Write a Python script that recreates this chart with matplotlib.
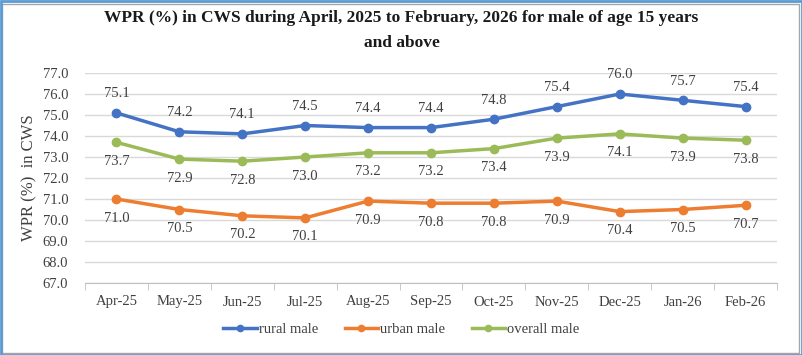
import matplotlib
matplotlib.use("Agg")
import matplotlib.pyplot as plt
from matplotlib.patches import Rectangle
from matplotlib.lines import Line2D

months = ["Apr-25", "May-25", "Jun-25", "Jul-25", "Aug-25", "Sep-25", "Oct-25",
          "Nov-25", "Dec-25", "Jan-26", "Feb-26"]
rural = [75.1, 74.2, 74.1, 74.5, 74.4, 74.4, 74.8, 75.4, 76.0, 75.7, 75.4]
urban = [71.0, 70.5, 70.2, 70.1, 70.9, 70.8, 70.8, 70.9, 70.4, 70.5, 70.7]
overall = [73.7, 72.9, 72.8, 73.0, 73.2, 73.2, 73.4, 73.9, 74.1, 73.9, 73.8]
yticks = [67.0 + i for i in range(11)]

plt.rcParams['font.family'] = ['Liberation Serif', 'DejaVu Serif']

fig = plt.figure(figsize=(8.03, 3.55), dpi=100)
W, H = 803, 355
ax = fig.add_axes([85 / W, 1 - 283 / H, (777 - 85) / W, (283 - 73) / H])

x = list(range(len(months)))
c_r, c_u, c_o = '#4472C4', '#ED7D31', '#9BBB59'
txt = '#404040'
ax.plot(x, rural, color=c_r, lw=2.5, marker='o', ms=6, label='rural male', zorder=3)
ax.plot(x, urban, color=c_u, lw=2.5, marker='o', ms=6, label='urban male', zorder=3)
ax.plot(x, overall, color=c_o, lw=2.5, marker='o', ms=6, label='overall male', zorder=3)

for xi, v in zip(x, rural):
    ax.annotate(f"{v:.1f}", (xi, v), xytext=(0, 9), textcoords='offset points',
                ha='center', va='bottom', fontsize=10.5, color=txt)
for xi, v in zip(x, overall):
    ax.annotate(f"{v:.1f}", (xi, v), xytext=(0, -9), textcoords='offset points',
                ha='center', va='top', fontsize=10.5, color=txt)
for xi, v in zip(x, urban):
    ax.annotate(f"{v:.1f}", (xi, v), xytext=(0, -9), textcoords='offset points',
                ha='center', va='top', fontsize=10.5, color=txt)

ax.set_xlim(-0.5, len(months) - 0.5)
ax.set_ylim(67, 77)
ax.set_yticks(yticks)
ax.set_yticklabels([f"{t:.1f}" for t in yticks], fontsize=10.5, color=txt)
ax.set_xticks(x)
ax.set_xticklabels(months, fontsize=10.5, color=txt)
ax.set_xticks([i - 0.5 for i in range(len(months) + 1)], minor=True)
ax.tick_params(axis='x', which='major', length=0, pad=9)
ax.tick_params(axis='x', which='minor', length=5, color='#BFBFBF', direction='out')
ax.tick_params(axis='y', length=0, pad=12)
ax.grid(axis='y', color='#D9D9D9', lw=1)
ax.set_axisbelow(True)
for s in ['top', 'right', 'left']:
    ax.spines[s].set_visible(False)
ax.spines['bottom'].set_color('#BFBFBF')
ax.set_ylabel("WPR (%)  in CWS", fontsize=12, color=txt, labelpad=4)

fig.suptitle("WPR (%) in CWS during April, 2025 to February, 2026 for male of age 15 years\nand above",
             x=0.5, y=1 - 10 / H, va='top', fontsize=12.5, fontweight='bold', linespacing=1.75,
             color='#1a1a1a')

handles = [Line2D([], [], color=c, lw=2.5, marker='o', ms=4.5) for c in (c_r, c_u, c_o)]
fig.legend(handles, ['rural male', 'urban male', 'overall male'], loc='center',
           bbox_to_anchor=(0.5, 1 - 329 / H), ncol=3, frameon=False,
           fontsize=10.5, handlelength=2.3, columnspacing=1.8, handletextpad=0.15,
           labelcolor=txt)

fig.patches.append(Rectangle((2 / W, 2 / H), 1 - 6 / W, 1 - 6 / H, transform=fig.transFigure,
                             fill=False, edgecolor='#A6A6A6', lw=1.0))
fig.patches.append(Rectangle((0.5 / W, 0.5 / H), 1 - 1.5 / W, 1 - 1.5 / H, transform=fig.transFigure,
                             fill=False, edgecolor='#5B9BD5', lw=2.0))

fig.savefig("out.png", dpi=100)
